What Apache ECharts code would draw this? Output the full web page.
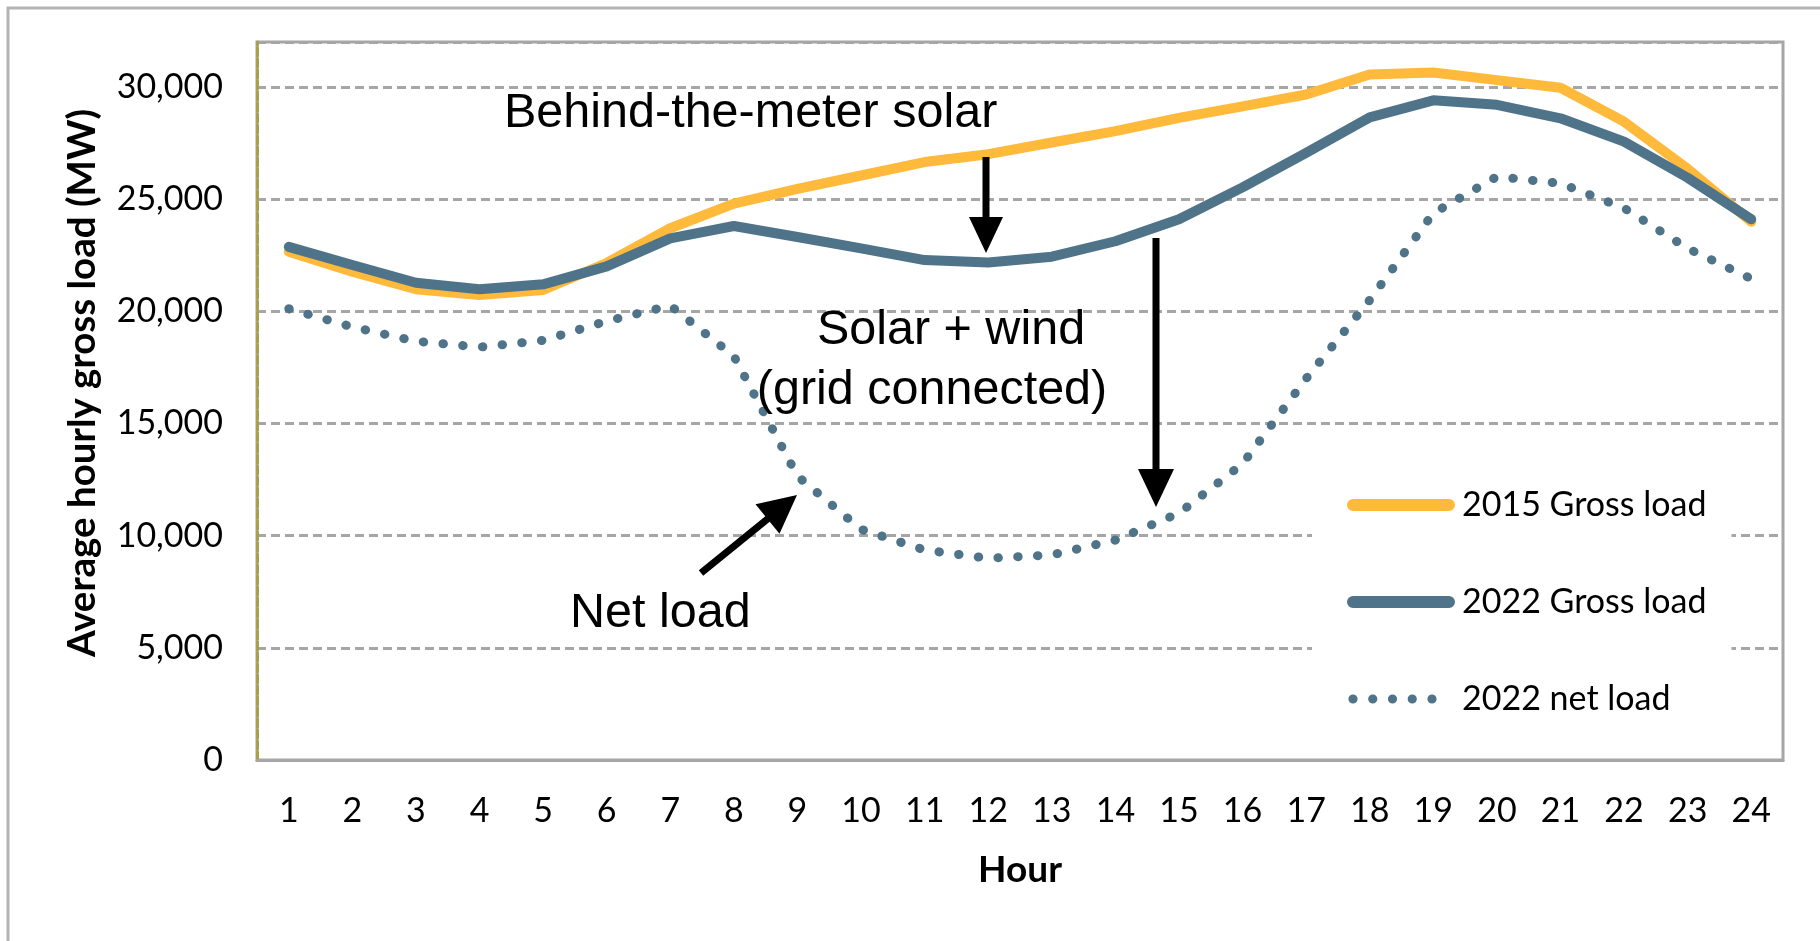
<!DOCTYPE html>
<html><head><meta charset="utf-8">
<script src="https://cdn.jsdelivr.net/npm/echarts@6/dist/echarts.min.js"></script>
<style>html,body{margin:0;padding:0;background:#fff}#c{width:1820px;height:941px}</style>
</head><body><div id="c"></div>
<script>
// ---- data ----
const hours = ['1','2','3','4','5','6','7','8','9','10','11','12','13','14','15','16','17','18','19','20','21','22','23','24'];
const gross2015 = [22650, 21760, 20980, 20720, 20950, 22150, 23700, 24800, 25450, 26050, 26650, 27000, 27520, 28030, 28620, 29130, 29660, 30550, 30640, 30300, 29960, 28450, 26350, 23990];
const gross2022 = [22870, 22060, 21270, 20980, 21200, 22000, 23250, 23800, 23310, 22800, 22280, 22170, 22430, 23120, 24100, 25520, 27060, 28640, 29400, 29200, 28600, 27560, 25950, 24100];
const net2022   = [20110, 19300, 18660, 18400, 18700, 19560, 20250, 18000, 12650, 10280, 9360, 8990, 9140, 9800, 11000, 13200, 17000, 20500, 24370, 26000, 25700, 24600, 22800, 21450];
const seriesNames = ['2015 Gross load', '2022 Gross load', '2022 net load'];
const yMax = 32000, yStep = 5000;

// ---- styles ----
const ORANGE = '#FFB93B', BLUE = '#4F7489';
const SANS = 'Lato';
const ANN = '"Liberation Sans", Arial, sans-serif';

const lineIcon = 'path://M0,0 L0.01,0 L0,0.01 Z M108,12 L107.99,12 L108,11.99 Z M6,0 L102,0 A6,6 0 0,1 102,12 L6,12 A6,6 0 0,1 6,0 Z';
function dotIcon() {
  let p = 'path://M0,0 L0.01,0 L0,0.01 Z M108,12 L107.99,12 L108,11.99 Z';
  const cs = [6, 25.75, 45.5, 65.25, 85], r = 4.6;
  cs.forEach(c => { p += ' M' + (c - r) + ',6 A' + r + ',' + r + ' 0 1,0 ' + (c + r) + ',6 A' + r + ',' + r + ' 0 1,0 ' + (c - r) + ',6 Z'; });
  return p;
}

function arrow(x1, y1, x2, y2, hl, hw, w) {
  const dx = x2 - x1, dy = y2 - y1, L = Math.hypot(dx, dy), ux = dx / L, uy = dy / L;
  const bx = x2 - ux * hl, by = y2 - uy * hl, px = -uy, py = ux;
  return [
    { type: 'line', z: 50, shape: { x1: x1, y1: y1, x2: bx + ux * 2, y2: by + uy * 2 }, style: { stroke: '#000', lineWidth: w } },
    { type: 'polygon', z: 50, shape: { points: [[x2, y2], [bx + px * hw, by + py * hw], [bx - px * hw, by - py * hw]] }, style: { fill: '#000' } }
  ];
}
function label(text, x, y, align) {
  return { type: 'text', z: 50, x: x, y: y,
    style: { text: text, font: '48.5px ' + ANN, fill: '#000', align: align, verticalAlign: 'middle', textAlign: align, textVerticalAlign: 'middle' } };
}

const chart = echarts.init(document.getElementById('c'), null, { renderer: 'canvas' });
chart.setOption({
  animation: false,
  backgroundColor: '#fff',
  grid: { left: 257, right: 37, top: 42, bottom: 181, containLabel: false, outerBoundsMode: 'none',
          show: true, borderColor: '#A6A6A6', borderWidth: 3, backgroundColor: 'transparent' },
  xAxis: {
    type: 'category', data: hours, boundaryGap: true,
    name: 'Hour', nameLocation: 'middle', nameGap: 92,
    nameTextStyle: { fontFamily: SANS, fontWeight: 'bold', fontSize: 37, color: '#000' },
    axisLine: { show: true, lineStyle: { color: '#A6A6A6', width: 3 } },
    axisTick: { show: false },
    axisLabel: { interval: 0, margin: 34, fontFamily: SANS, fontSize: 34, color: '#000' },
    splitLine: { show: false }
  },
  yAxis: {
    type: 'value', min: 0, max: yMax, interval: yStep,
    name: 'Average hourly gross load (MW)', nameLocation: 'middle', nameGap: 155, nameRotate: 90,
    nameTextStyle: { fontFamily: SANS, fontWeight: 'bold', fontSize: 38.5, color: '#000', padding: [0, 0, 0, 36] },
    axisLine: { show: true, lineStyle: { color: '#A8A14A', width: 3, type: [8, 3] } },
    axisTick: { show: false },
    axisLabel: { margin: 34, fontFamily: SANS, fontSize: 34, color: '#000',
      formatter: v => (v % yStep === 0 ? v.toLocaleString('en-US') : '') },
    splitLine: { show: true, lineStyle: { color: '#A6A6A6', width: 3, type: [9, 5] } }
  },
  legend: {
    orient: 'vertical', left: 1312, top: 458, padding: [30, 25, 30, 35],
    backgroundColor: '#fff', itemWidth: 108, itemHeight: 12, itemGap: 63,
    itemStyle: { borderWidth: 0 },
    textStyle: { fontFamily: SANS, fontSize: 34, color: '#000', padding: [0, 0, 0, 2] },
    data: [
      { name: seriesNames[0], icon: lineIcon, itemStyle: { color: ORANGE, borderWidth: 0 } },
      { name: seriesNames[1], icon: lineIcon, itemStyle: { color: BLUE, borderWidth: 0 } },
      { name: seriesNames[2], icon: dotIcon(), itemStyle: { color: BLUE, borderWidth: 0 } }
    ]
  },
  series: [
    { name: seriesNames[0], type: 'line', data: gross2015, symbol: 'none', showSymbol: false, z: 3,
      color: ORANGE, itemStyle: { color: ORANGE },
      lineStyle: { color: ORANGE, width: 10, cap: 'round', join: 'round' } },
    { name: seriesNames[1], type: 'line', data: gross2022, symbol: 'none', showSymbol: false, z: 4,
      color: BLUE, itemStyle: { color: BLUE },
      lineStyle: { color: BLUE, width: 10, cap: 'round', join: 'round' } },
    { name: seriesNames[2], type: 'line', data: net2022, symbol: 'none', showSymbol: false, z: 4,
      color: BLUE, itemStyle: { color: BLUE },
      lineStyle: { color: BLUE, width: 9, cap: 'round', join: 'round', type: [0.5, 19.3] } }
  ],
  graphic: [
    { type: 'rect', z: 60, silent: true, shape: { x: 8, y: 8, width: 1850, height: 980 },
      style: { fill: 'none', stroke: '#B4B4B4', lineWidth: 3 } },
    label('Behind-the-meter solar', 504, 114, 'left'),
    label('Solar + wind', 951, 331, 'center'),
    label('(grid connected)', 932, 391, 'center'),
    label('Net load', 570, 614, 'left')
  ].concat(arrow(986, 157, 986, 253, 36, 17, 7))
   .concat(arrow(1156, 238, 1156, 507, 38, 18, 7))
   .concat(arrow(701, 573, 797, 495, 38, 19, 7))
});
</script></body></html>
